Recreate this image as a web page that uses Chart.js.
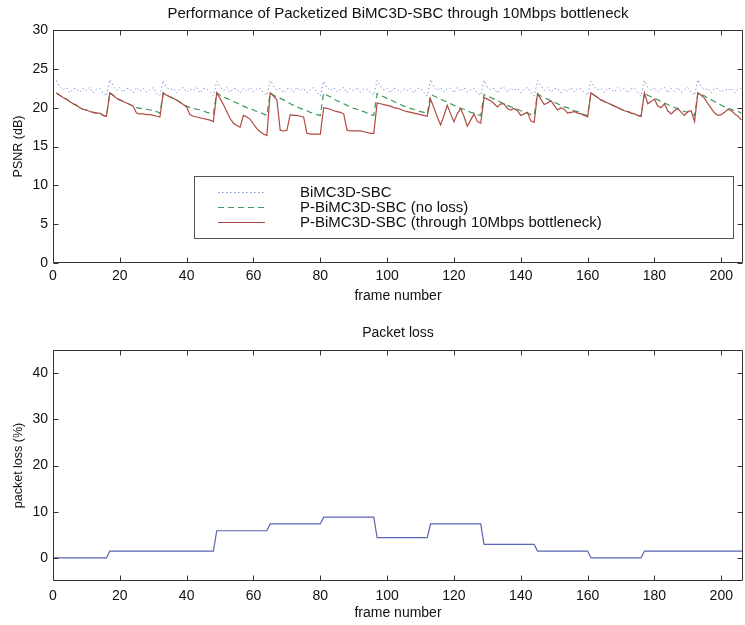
<!DOCTYPE html>
<html>
<head>
<meta charset="utf-8">
<script src="https://cdn.jsdelivr.net/npm/chart.js@4.4.1/dist/chart.umd.min.js"></script>
<style>
  html, body { margin: 0; padding: 0; background: #fff; }
  #wrap { position: relative; width: 745px; height: 625px; overflow: hidden; background: #fff; }
  #c1 { position: absolute; left: 0; top: 0; }
  #c2 { position: absolute; left: 0; top: 315px; }
</style>
</head>
<body>
<div id="wrap">
  <canvas id="c1" width="745" height="310" style="width:745px;height:310px"></canvas>
  <canvas id="c2" width="745" height="310" style="width:745px;height:310px"></canvas>
</div>
<script>
// ---------------- DATA ----------------
const firstFrame = 1;   // PSNR series start at frame 1

// BiMC3D-SBC (dotted blue), frames 1..206
const bimcPsnr = [
  23.5,22.7,22.3,22.6,21.9,22.4,22.5,22.0,22.5,22.2,22.6,21.9,22.4,22.5,21.9,21.5,
  23.6,22.8,22.2,22.6,22.0,22.5,22.4,21.9,22.6,22.1,22.5,22.0,22.3,22.6,21.8,21.6,
  23.5,22.6,22.3,22.5,21.9,22.4,22.6,22.0,22.4,22.2,22.6,21.9,22.5,22.4,22.0,21.5,
  23.4,22.7,22.2,22.6,22.0,22.5,22.4,21.9,22.5,22.1,22.6,22.0,22.4,22.5,21.9,21.6,
  23.5,22.8,22.3,22.5,21.9,22.4,22.5,22.0,22.6,22.2,22.5,21.9,22.3,22.6,22.0,21.5,
  23.4,22.6,22.2,22.6,22.0,22.4,22.6,21.9,22.5,22.1,22.6,22.0,22.4,22.4,21.9,21.6,
  23.5,22.7,22.3,22.5,21.9,22.5,22.4,22.0,22.4,22.2,22.5,21.9,22.5,22.5,22.0,21.5,
  23.6,22.7,22.2,22.6,22.0,22.4,22.5,21.9,22.6,22.1,22.6,22.0,22.3,22.5,21.9,21.6,
  23.5,22.6,22.3,22.5,21.9,22.5,22.6,22.0,22.5,22.2,22.5,21.9,22.4,22.6,22.0,21.5,
  23.5,22.8,22.2,22.6,22.0,22.4,22.5,21.9,22.4,22.1,22.6,22.0,22.5,22.4,21.9,21.6,
  23.4,22.7,22.3,22.5,21.9,22.5,22.4,22.0,22.6,22.2,22.5,21.9,22.4,22.5,22.0,21.5,
  23.5,22.6,22.2,22.6,22.0,22.4,22.6,21.9,22.5,22.1,22.6,22.0,22.3,22.6,21.9,21.6,
  23.6,22.7,22.3,22.5,21.9,22.5,22.5,22.0,22.4,22.2,22.5,21.9,22.4,22.5
];

// P-BiMC3D-SBC (no loss) (dashed green), frames 1..206
const pNoLossPsnr = [
  21.9,21.6,21.3,21.1,20.8,20.5,20.3,20.0,19.8,19.7,19.5,19.4,19.3,19.3,19.0,18.9,
  21.9,21.6,21.2,21.0,20.8,20.6,20.4,20.2,20.0,19.9,19.9,19.8,19.7,19.6,19.5,19.3,
  21.9,21.6,21.4,21.2,21.0,20.7,20.4,20.2,20.0,19.9,19.8,19.7,19.6,19.4,19.3,19.2,
  21.9,21.6,21.4,21.2,21.0,20.8,20.6,20.4,20.2,20.0,19.9,19.7,19.5,19.4,19.2,19.0,
  21.9,21.6,21.4,21.2,21.0,20.8,20.5,20.3,20.1,19.9,19.8,19.6,19.4,19.3,19.1,19.0,
  21.9,21.6,21.4,21.1,20.9,20.7,20.5,20.3,20.1,19.9,19.8,19.6,19.5,19.3,19.1,19.0,
  21.8,21.6,21.4,21.2,21.0,20.8,20.6,20.4,20.2,20.1,19.9,19.8,19.6,19.5,19.4,19.2,
  21.7,21.5,21.3,21.1,20.9,20.7,20.5,20.3,20.1,19.9,19.8,19.6,19.4,19.3,19.1,19.0,
  21.7,21.5,21.3,21.1,20.9,20.7,20.5,20.3,20.1,20.0,19.8,19.6,19.5,19.3,19.1,19.0,
  21.8,21.5,21.3,21.1,20.9,20.7,20.5,20.3,20.1,20.0,19.8,19.6,19.5,19.3,19.1,19.0,
  21.9,21.6,21.3,21.0,20.8,20.6,20.4,20.2,20.0,19.8,19.6,19.5,19.3,19.2,19.0,18.9,
  21.9,21.6,21.4,21.2,21.0,20.8,20.6,20.4,20.2,20.0,19.9,19.7,19.5,19.4,19.2,19.0,
  21.9,21.7,21.5,21.2,21.0,20.8,20.6,20.3,20.1,19.9,19.8,19.6,19.5,19.3
];

// P-BiMC3D-SBC (through 10Mbps bottleneck) (solid red), frames 1..206
const pBottleneckPsnr = [
  21.9,21.6,21.3,21.1,20.8,20.5,20.3,20.0,19.8,19.7,19.5,19.4,19.3,19.3,19.0,18.9,
  21.9,21.6,21.2,21.0,20.8,20.6,20.4,20.2,19.3,19.2,19.2,19.1,19.1,19.0,18.9,18.8,
  21.9,21.6,21.4,21.2,21.0,20.7,20.4,20.1,19.1,18.9,18.8,18.7,18.6,18.5,18.4,18.2,
  21.9,21.2,20.4,19.5,18.6,18.0,17.7,17.5,19.0,18.8,18.5,17.9,17.3,16.9,16.6,16.4,
  21.9,21.5,21.0,17.1,17.0,17.1,19.1,19.0,19.0,18.9,18.8,16.7,16.6,16.6,16.6,16.6,
  20.0,19.9,19.8,19.6,19.5,19.4,19.2,17.1,17.0,17.0,17.0,17.0,16.9,16.8,16.7,16.7,
  20.6,20.5,20.4,20.3,20.2,20.0,19.9,19.8,19.6,19.5,19.4,19.3,19.2,19.1,19.0,18.9,
  21.1,20.0,18.8,17.8,19.0,20.3,19.2,18.2,19.2,19.9,18.9,17.6,18.4,19.2,18.2,18.0,
  21.3,21.1,20.9,20.5,20.1,20.5,20.5,19.9,19.7,19.9,19.6,19.0,19.2,19.4,18.3,18.1,
  21.8,21.1,20.4,20.6,20.9,20.3,19.7,20.0,19.8,19.3,19.4,19.5,19.3,19.2,19.0,18.8,
  21.9,21.6,21.3,21.0,20.8,20.6,20.4,20.2,20.0,19.8,19.6,19.5,19.3,19.2,19.0,18.9,
  21.9,20.5,20.8,21.1,20.2,20.0,20.5,19.6,19.2,19.6,19.9,19.4,19.0,19.5,19.6,18.2,
  21.9,21.6,21.2,20.5,19.9,19.3,19.0,19.1,19.4,19.8,19.6,19.2,18.9,18.4
];

// Packet loss (%) — corner points of the step curve
const lossFrames = [0, 16, 17, 48, 49, 64, 65, 80, 81, 96, 97, 112, 113, 128, 129, 144, 145, 160, 161, 176, 177, 207];
const lossValues = [0, 0, 1.47, 1.47, 5.88, 5.88, 7.35, 7.35, 8.82, 8.82, 4.41, 4.41, 7.35, 7.35, 2.94, 2.94, 1.47, 1.47, 0, 0, 1.47, 1.47];

// Tick labels
const frameTicks = [0, 20, 40, 60, 80, 100, 120, 140, 160, 180, 200];
const psnrTicks = [0, 5, 10, 15, 20, 25, 30];
const lossTicks = [0, 10, 20, 30, 40];

const seriesLabels = [
  'BiMC3D-SBC',
  'P-BiMC3D-SBC (no loss)',
  'P-BiMC3D-SBC (through 10Mbps bottleneck)'
];
const topTitle = 'Performance of Packetized BiMC3D-SBC through 10Mbps bottleneck';
const bottomTitle = 'Packet loss';

// ---------------- RENDERING ----------------
const FONT = "'Liberation Sans', Arial, Helvetica, sans-serif";
Chart.defaults.font.family = FONT;
Chart.defaults.color = '#111';

const toXY = arr => arr.map((v, i) => ({ x: firstFrame + i, y: v }));

const boxPlugin = {
  id: 'matlabBox',
  afterDraw(chart) {
    const { ctx, chartArea: a, scales } = chart;
    const L = 5;
    const l = Math.round(a.left) + 0.5, r = Math.round(a.right) - 0.5;
    const t = Math.round(a.top) + 0.5, b = Math.round(a.bottom) - 0.5;
    ctx.save();
    ctx.strokeStyle = '#333';
    ctx.lineWidth = 1;
    ctx.setLineDash([]);
    ctx.beginPath();
    ctx.rect(l, t, r - l, b - t);
    scales.x.ticks.forEach(tk => {
      const px = Math.round(scales.x.getPixelForValue(tk.value)) + 0.5;
      ctx.moveTo(px, b); ctx.lineTo(px, b - L);
      ctx.moveTo(px, t); ctx.lineTo(px, t + L);
    });
    scales.y.ticks.forEach(tk => {
      const py = Math.round(scales.y.getPixelForValue(tk.value)) + 0.5;
      ctx.moveTo(l, py); ctx.lineTo(l + L, py);
      ctx.moveTo(r, py); ctx.lineTo(r - L, py);
    });
    ctx.stroke();
    ctx.restore();
  }
};

const boxLegendPlugin = {
  id: 'boxLegend',
  afterDatasetsDraw(chart, args, o) {
    if (!o || !o.show) return;
    const { ctx } = chart;
    ctx.save();
    ctx.fillStyle = '#fff';
    ctx.fillRect(o.x, o.y, o.w, o.h);
    ctx.strokeStyle = '#555';
    ctx.lineWidth = 1;
    ctx.strokeRect(o.x + 0.5, o.y + 0.5, o.w, o.h);
    chart.data.datasets.forEach((ds, i) => {
      const cy = o.y + o.firstRow + i * o.rowH;
      ctx.strokeStyle = ds.borderColor;
      ctx.lineWidth = ds.borderWidth;
      ctx.setLineDash(ds.borderDash || []);
      ctx.beginPath();
      ctx.moveTo(o.x + o.sampleStart, Math.round(cy) + 0.5);
      ctx.lineTo(o.x + o.sampleEnd, Math.round(cy) + 0.5);
      ctx.stroke();
      ctx.setLineDash([]);
      ctx.fillStyle = '#111';
      ctx.font = o.fontSize + 'px ' + FONT;
      ctx.textBaseline = 'middle';
      ctx.textAlign = 'left';
      ctx.fillText(ds.label, o.x + o.textStart, cy + 0.5);
    });
    ctx.restore();
  }
};

function axisCommon(ticksArr, pad) {
  return {
    afterBuildTicks: s => { s.ticks = ticksArr.map(v => ({ value: v })); },
    grid: { display: false, drawTicks: false },
    border: { display: false },
    ticks: { font: { size: 14 }, color: '#111', padding: pad, maxRotation: 0, autoSkip: false }
  };
}

new Chart(document.getElementById('c1'), {
  type: 'line',
  data: {
    datasets: [
      { label: seriesLabels[0], data: toXY(bimcPsnr), borderColor: '#7f95d2', borderWidth: 1,
        borderDash: [1.5, 2.5], pointRadius: 0, tension: 0, fill: false, order: 2 },
      { label: seriesLabels[1], data: toXY(pNoLossPsnr), borderColor: '#3c9a5c', borderWidth: 1.2,
        borderDash: [6, 4], pointRadius: 0, tension: 0, fill: false, order: 1 },
      { label: seriesLabels[2], data: toXY(pBottleneckPsnr), borderColor: '#b04a42', borderWidth: 1.2,
        pointRadius: 0, tension: 0, fill: false, order: 0 }
    ]
  },
  options: {
    responsive: false, animation: false, devicePixelRatio: 1,
    layout: { padding: { left: 0, right: 2, top: 0, bottom: 0 } },
    plugins: {
      legend: { display: false },
      tooltip: { enabled: false },
      title: { display: true, fullSize: false, text: topTitle, color: '#111',
        font: { size: 15, weight: 'normal' }, padding: { top: 5, bottom: 7 } },
      boxLegend: { show: true, x: 194, y: 176, w: 539, h: 62, firstRow: 16, rowH: 15,
        sampleStart: 24, sampleEnd: 71, textStart: 106, fontSize: 15 }
    },
    scales: {
      x: Object.assign(axisCommon(frameTicks, 5), {
        type: 'linear', min: 0, max: 206.5,
        title: { display: true, text: 'frame number', color: '#111', font: { size: 14 },
          padding: { top: 0, bottom: 5 } },
        afterFit: s => { s.height = 47; }
      }),
      y: Object.assign(axisCommon(psnrTicks, 5), {
        min: 0, max: 30,
        title: { display: true, text: 'PSNR (dB)', color: '#111', font: { size: 12.5 },
          padding: { top: 11, bottom: 0 } },
        afterFit: s => { s.width = 53; }
      })
    }
  },
  plugins: [boxLegendPlugin, boxPlugin]
});

new Chart(document.getElementById('c2'), {
  type: 'line',
  data: {
    datasets: [
      { label: 'packet loss', data: lossFrames.map((f, i) => ({ x: f, y: lossValues[i] })),
        borderColor: '#5a64b4', borderWidth: 1.2, pointRadius: 0, tension: 0, fill: false }
    ]
  },
  options: {
    responsive: false, animation: false, devicePixelRatio: 1,
    layout: { padding: { left: 0, right: 2, top: 0, bottom: 0 } },
    plugins: {
      legend: { display: false },
      tooltip: { enabled: false },
      title: { display: true, fullSize: false, text: bottomTitle, color: '#111',
        font: { size: 14, weight: 'normal' }, padding: { top: 10, bottom: 8.2 } }
    },
    scales: {
      x: Object.assign(axisCommon(frameTicks, 7), {
        type: 'linear', min: 0, max: 206.5,
        title: { display: true, text: 'frame number', color: '#111', font: { size: 14 },
          padding: { top: 0, bottom: 3 } },
        afterFit: s => { s.height = 44; }
      }),
      y: Object.assign(axisCommon(lossTicks, 5), {
        min: -5, max: 45,
        title: { display: true, text: 'packet loss (%)', color: '#111', font: { size: 12.5 },
          padding: { top: 11, bottom: 0 } },
        afterFit: s => { s.width = 53; }
      })
    }
  },
  plugins: [boxPlugin]
});
</script>
</body>
</html>
